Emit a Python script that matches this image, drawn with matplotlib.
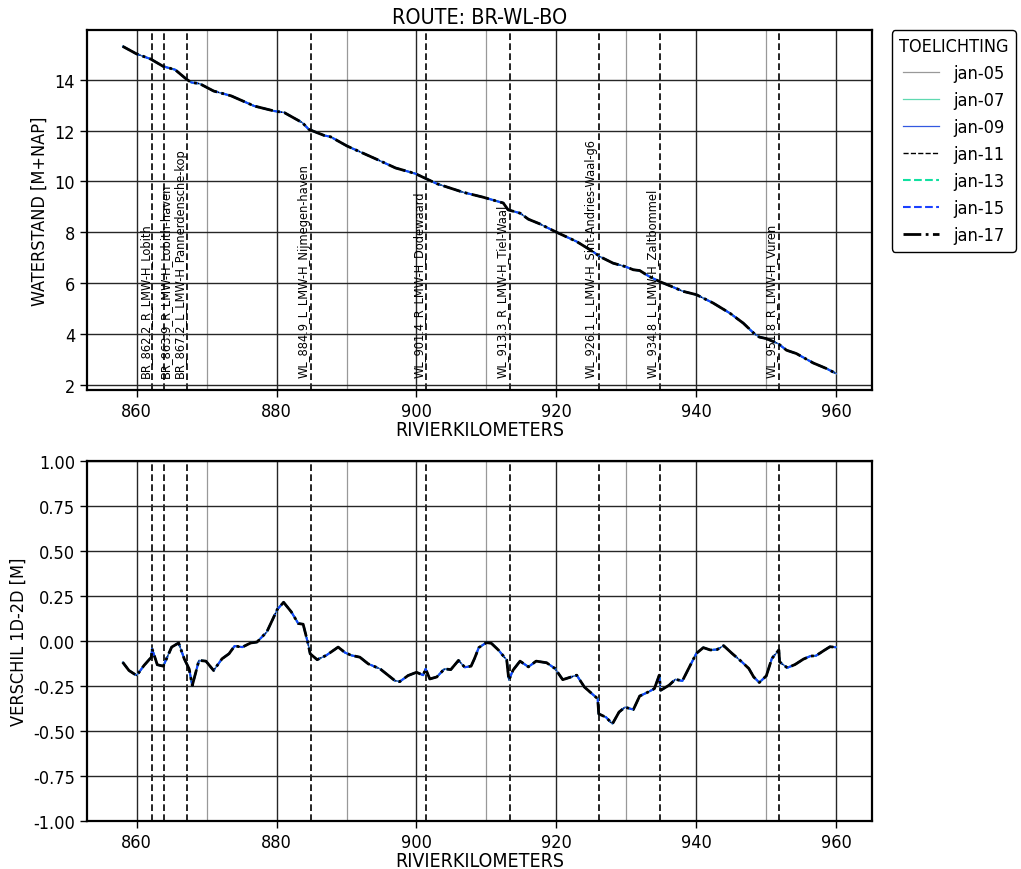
import matplotlib
matplotlib.use("Agg")
import matplotlib.pyplot as plt
from matplotlib.ticker import MultipleLocator, FormatStrFormatter

plt.rcParams["font.family"] = ["DejaVu Sans"]
plt.rcParams["font.stretch"] = "condensed"

# waterstand langs de route (leesbaar van de figuur)
km_wl = [858, 860, 862, 863.8, 865.5, 867.1, 867.8, 869, 871, 873.5, 876.8, 879.7,
         881.1, 883.7, 884.6, 886.8, 887.7, 890.1, 894.4, 897, 899.8, 901.2, 902.9,
         906.7, 909.5, 912.4, 913.1, 914.8, 916, 917.6, 920, 922.9, 925.2, 926.2,
         928.1, 929.8, 931, 931.9, 933.3, 934.8, 936.4, 938.1, 940, 942.4, 944.8,
         946.7, 948.3, 949, 950, 951.7, 952.9, 954.3, 956.7, 958.6, 960]
wl = [15.32, 15.02, 14.82, 14.53, 14.40, 14.03, 13.9, 13.85, 13.56, 13.37, 12.97, 12.77,
      12.71, 12.31, 12.05, 11.81, 11.76, 11.39, 10.86, 10.53, 10.31, 10.13, 9.91,
      9.57, 9.38, 9.15, 8.88, 8.75, 8.51, 8.33, 8.0, 7.63, 7.24, 7.04,
      6.78, 6.65, 6.52, 6.49, 6.25, 6.05, 5.87, 5.67, 5.54, 5.21, 4.81,
      4.42, 4.0, 3.87, 3.81, 3.61, 3.35, 3.22, 2.85, 2.63, 2.43]

# verschil 1D-2D
km_diff = [858, 858.9, 860, 861.05, 862.1, 862.2, 862.95, 863.8, 865, 866, 866.8, 867.5,
           867.95, 868.9, 869.9, 871, 872.2, 873.2, 874, 875.1, 876.3, 877.2, 878.6,
           880.1, 881, 882.1, 883.1, 883.8, 884.5, 884.8, 885.8, 887.1, 888.8, 889.8,
           890.7, 891.9, 893.1, 894.8, 896.9, 897.6, 898.8, 900, 900.95, 901.3, 901.9,
           902.9, 904, 904.9, 906, 906.9, 907.8, 908.3, 908.9, 910, 910.7, 911.7,
           912.9, 913.2, 913.8, 914.8, 916, 917.1, 918.6, 919.8, 920.9, 922.9, 924,
           925.9, 926.05, 927.1, 928, 928.95, 929.8, 931, 931.9, 933.1, 934, 934.7,
           934.9, 936.1, 937, 938, 938.9, 940, 941, 942, 943, 943.9, 945.1, 946.5,
           947.5, 948.2, 949, 950, 950.8, 951.8, 951.9, 953, 954.1, 955.3, 956.3,
           957.1, 958.2, 959.1, 960]
diff = [-0.118, -0.164, -0.192, -0.136, -0.09, -0.043, -0.132, -0.14, -0.034, -0.011, -0.099, -0.155,
        -0.248, -0.108, -0.112, -0.164, -0.099, -0.071, -0.028, -0.034, -0.011, -0.006, 0.05,
        0.175, 0.215, 0.162, 0.097, 0.093, -0.015, -0.071, -0.104, -0.08, -0.034, -0.065,
        -0.08, -0.09, -0.127, -0.155, -0.22, -0.226, -0.192, -0.174, -0.19, -0.155, -0.211,
        -0.20, -0.155, -0.159, -0.108, -0.146, -0.14, -0.097, -0.037, -0.009, -0.013, -0.05,
        -0.106, -0.218, -0.162, -0.112, -0.144, -0.112, -0.121, -0.153, -0.215, -0.19, -0.256,
        -0.321, -0.405, -0.424, -0.461, -0.395, -0.368, -0.381, -0.306, -0.284, -0.265, -0.19,
        -0.274, -0.246, -0.213, -0.222, -0.153, -0.069, -0.037, -0.05, -0.047, -0.026, -0.069, -0.116,
        -0.153, -0.2, -0.231, -0.194, -0.097, -0.05, -0.116, -0.149, -0.131, -0.101, -0.084,
        -0.082, -0.054, -0.032, -0.035]

years = ["jan-05", "jan-07", "jan-09", "jan-11", "jan-13", "jan-15", "jan-17"]

station_km = [862.2, 863.9, 867.2, 884.9, 901.4, 913.3, 926.1, 934.8, 951.8]
station_names = ["BR_862.2_R_LMW-H_Lobith", "BR_863.9_R_LMW-H_Lobith-haven",
                 "BR_867.2_L_LMW-H_Pannerdensche-kop", "WL_884.9_L_LMW-H_Nijmegen-haven",
                 "WL_901.4_R_LMW-H_Dodewaard", "WL_913.3_R_LMW-H_Tiel-Waal",
                 "WL_926.1_L_LMW-H_Sint-Andries-Waal-g6", "WL_934.8_L_LMW-H_Zaltbommel",
                 "WL_951.8_R_LMW-H_Vuren"]

styles = {
    "jan-05": dict(color="#999999", ls="-", lw=0.9),
    "jan-07": dict(color="#5fd9b0", ls="-", lw=0.9),
    "jan-09": dict(color="#3358e0", ls="-", lw=0.9),
    "jan-11": dict(color="black", ls="--", lw=1.0),
    "jan-13": dict(color="#10e0a0", ls="--", lw=1.5),
    "jan-15": dict(color="#1a40ff", ls="--", lw=1.5),
    "jan-17": dict(color="black", ls="-.", lw=2.0),
}
label_dx = [-0.9, 0.2, -0.9, -1.0, -1.0, -1.0, -1.1, -1.1, -1.1]

fig = plt.figure(figsize=(10.21, 8.7), dpi=100)
ax1 = fig.add_axes([0.0852, 0.5506, 0.7688, 0.4138])
ax2 = fig.add_axes([0.0852, 0.0552, 0.7688, 0.4138])

for ax in (ax1, ax2):
    for spine in ax.spines.values():
        spine.set_linewidth(1.6)
    ax.xaxis.set_major_locator(MultipleLocator(20))
    ax.xaxis.set_minor_locator(MultipleLocator(10))
    ax.grid(which="major", color="0.15", lw=1.0, zorder=0)
    ax.grid(which="minor", axis="x", color="0.6", lw=0.9, zorder=0)
    ax.tick_params(which="major", direction="out", length=5, width=1, labelsize=13)
    ax.tick_params(which="minor", length=0)
    for k in station_km:
        ax.axvline(k, color="black", ls=(0, (4, 2)), lw=1.2, zorder=1)
    ax.set_xlabel("RIVIERKILOMETERS", fontsize=14, labelpad=0)

for y in years:
    ax1.plot(km_wl, wl, label=y, zorder=3, **styles[y])
    ax2.plot(km_diff, diff, label=y, zorder=3, **styles[y])

ax1.yaxis.set_major_locator(MultipleLocator(2))
ax1.set_ylabel("WATERSTAND [M+NAP]", fontsize=13)
ax1.set_title("ROUTE: BR-WL-BO", fontsize=15.5, pad=5)
for k, name, dx in zip(station_km, station_names, label_dx):
    ax1.text(k + dx, 2.3, name, rotation=90, ha="center", va="bottom", fontsize=9.2)

ax2.set_ylim(-1, 1)
ax2.yaxis.set_major_locator(MultipleLocator(0.25))
ax2.yaxis.set_major_formatter(FormatStrFormatter("%.2f"))
ax2.set_ylabel("VERSCHIL 1D-2D [M]", fontsize=13)

leg = ax1.legend(loc="upper left", bbox_to_anchor=(1.025, 1.0), borderaxespad=0,
                 title="TOELICHTING", fontsize=13, title_fontsize=13,
                 edgecolor="black", framealpha=1)
leg.get_frame().set_linewidth(1.0)

fig.savefig("out.png", dpi=100)
